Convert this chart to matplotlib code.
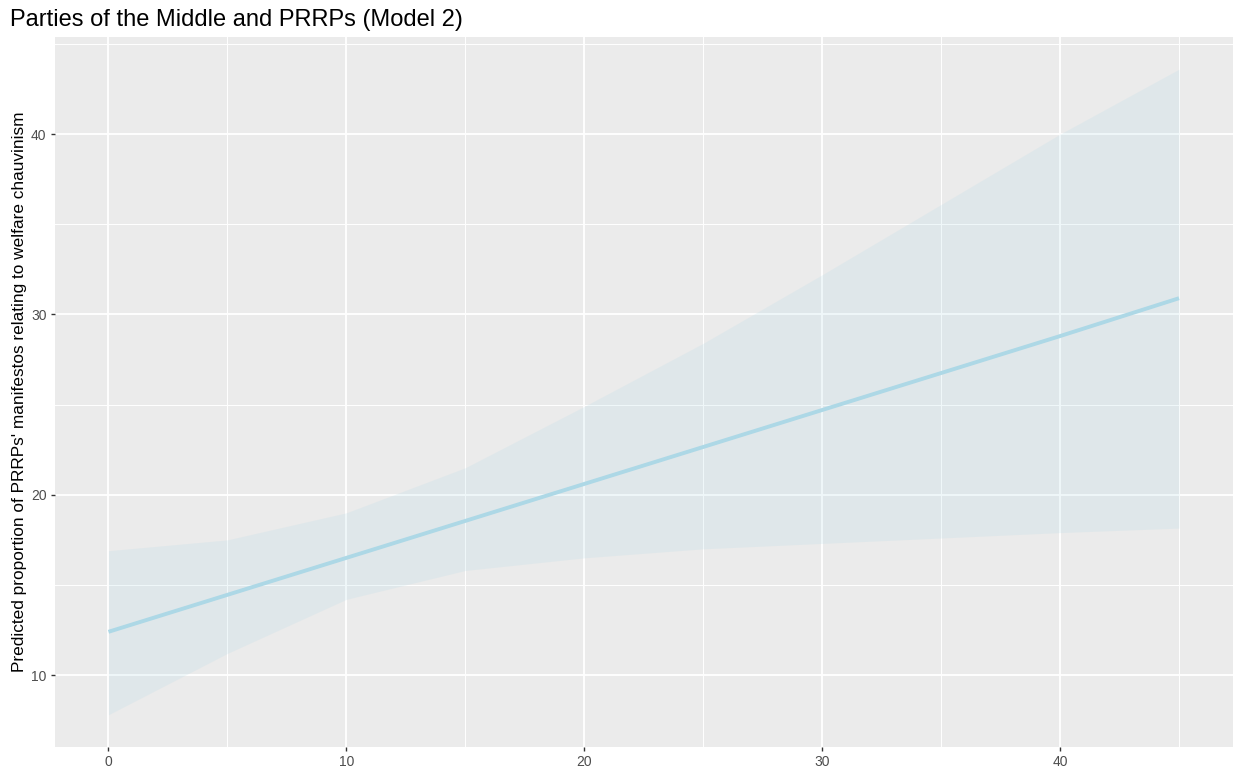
import matplotlib
matplotlib.use("Agg")
import matplotlib.pyplot as plt
import numpy as np

plt.rcParams['font.family'] = ['Liberation Sans', 'DejaVu Sans']

# Predicted values and 95% confidence band at each evaluated x
x_vals = [0, 5, 10, 15, 20, 25, 30, 35, 40, 45]
fit = [12.4, 14.45, 16.5, 18.55, 20.6, 22.65, 24.7, 26.75, 28.8, 30.9]
upper = [16.9, 17.5, 19.0, 21.5, 24.9, 28.4, 32.2, 36.1, 40.0, 43.6]
lower = [7.8, 11.2, 14.2, 15.8, 16.5, 17.0, 17.3, 17.6, 17.9, 18.15]

title = "Parties of the Middle and PRRPs (Model 2)"
ylabel = "Predicted proportion of PRRPs' manifestos relating to welfare chauvinism"
xticks = [0, 10, 20, 30, 40]
yticks = [10, 20, 30, 40]

fig = plt.figure(figsize=(12.35, 7.71), dpi=100)
ax = fig.add_axes([0.0445, 0.0311, 0.9535, 0.921])
ax.set_facecolor('#EBEBEB')
for s in ax.spines.values():
    s.set_visible(False)

ax.fill_between(x_vals, lower, upper, color='#ADD8E6', alpha=0.18, linewidth=0, zorder=2)
ax.plot(x_vals, fit, color='#ADD8E6', linewidth=2.8, zorder=3, solid_capstyle='butt')

xr = max(x_vals) - min(x_vals)
ax.set_xlim(min(x_vals) - 0.05 * xr, max(x_vals) + 0.05 * xr)
ymin, ymax = min(lower), max(upper)
yr = ymax - ymin
ax.set_ylim(ymin - 0.05 * yr, ymax + 0.05 * yr)

ax.set_xticks(xticks)
ax.set_yticks(yticks)
ax.set_xticks([5, 15, 25, 35, 45], minor=True)
ax.set_yticks([15, 25, 35, 45], minor=True)
ax.grid(True, which='major', color='white', linewidth=1.3, zorder=1)
ax.grid(True, which='minor', color='white', linewidth=0.7, zorder=1)
ax.set_axisbelow(True)
ax.tick_params(which='major', length=3, width=1, color='#333333',
               labelsize=10, labelcolor='#4D4D4D', pad=3)
ax.tick_params(which='minor', length=0)

ax.set_ylabel(ylabel, fontsize=12.45, color='black', labelpad=3)
fig.text(10 / 1235, 1 - 20 / 771, title, fontsize=17, ha='left', va='center')

fig.savefig('out.png', dpi=100)
